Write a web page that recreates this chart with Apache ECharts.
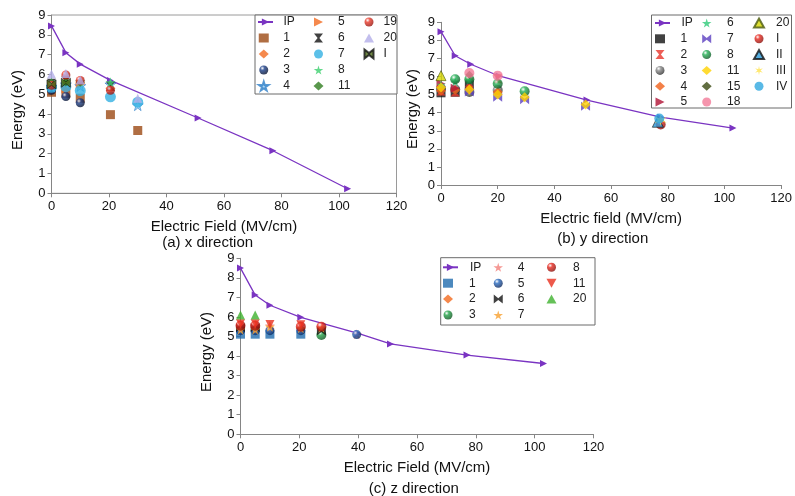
<!DOCTYPE html>
<html>
<head>
<meta charset="utf-8">
<script src="https://cdn.jsdelivr.net/npm/echarts@6/dist/echarts.min.js"></script>
<style>
  html, body { margin: 0; padding: 0; background: #fff; }
  #chart { width: 795px; height: 496px; }
</style>
</head>
<body>
<div id="chart"></div>
<script>
// ---------- data: electric field (MV/cm) vs energy (eV) ----------
// IP curves
const ipFieldX = [0, 5, 10, 20.5, 51, 77, 103];
const ipEnergyX = [8.45, 7.1, 6.52, 5.7, 3.8, 2.15, 0.23];
const ipFieldY = [0, 5, 10.5, 20.5, 51.5, 77.5, 103];
const ipEnergyY = [8.48, 7.15, 6.68, 6.03, 4.7, 3.75, 3.15];
const ipFieldZ = [0, 5, 10, 20.5, 40, 51, 77, 103];
const ipEnergyZ = [8.5, 7.12, 6.6, 5.98, 5.16, 4.62, 4.05, 3.62];

// (a) x direction
const xLabels = ['1', '2', '3', '4', '5', '6', '7', '8', '11', '19', '20', 'I'];
const xPoints = [
  [[0, 5.1], [5, 5.05], [10, 4.8], [20.5, 3.97], [30, 3.17]],
  [[0, 5.45], [5, 5.3], [10, 5.55], [20.5, 5.3]],
  [[0, 5.2], [5, 4.88], [10, 4.57]],
  [[0, 5.38], [5, 5.5], [10, 5.42], [20.5, 5.5], [30, 4.45]],
  [[0, 5.5], [5, 5.28], [10, 5.5]],
  [[0, 5.55], [5, 5.68], [20.5, 5.4]],
  [[0, 5.35], [5, 5.38], [10, 5.18], [20.5, 4.87], [30, 4.6]],
  [[0, 5.62], [5, 5.65], [10, 5.65], [20.5, 5.6]],
  [[0, 5.55], [5, 5.62], [10, 5.6]],
  [[0, 5.45], [5, 5.97], [10, 5.7], [20.5, 5.2]],
  [[0, 6.02], [5, 6.05], [10, 5.72], [30, 4.8]],
  [[0, 5.5], [5, 5.58]]
];

// (b) y direction
const yLabels = ['1', '2', '3', '4', '5', '6', '7', '8', '11', '15', '18', '20', 'I', 'II', 'III', 'IV'];
const yPoints = [
  [[0, 5.1], [5, 5.13], [10, 5.55]],
  [[0, 5.2], [5, 5.15], [10, 5.65], [20, 5.88]],
  [[0, 5.35], [5, 5.3], [10, 5.15], [20, 5.25]],
  [[0, 5.22], [5, 5.25], [10, 5.3], [20, 5.15]],
  [[0, 5.6], [5, 5.35]],
  [[0, 5.55], [5, 5.72], [10, 5.8]],
  [[10, 5.15], [20, 4.85], [29.5, 4.72], [51, 4.35]],
  [[5, 5.85], [10, 5.85], [20, 5.6], [29.5, 5.18]],
  [[0, 5.4], [10, 5.28], [20, 5.0], [29.5, 4.85], [51, 4.45]],
  [[10, 6.1]],
  [[10, 6.2], [20, 6.05]],
  [[0, 6.05]],
  [[77.5, 3.35]],
  [[76.5, 3.5]],
  [[77.5, 3.6]],
  [[77, 3.68]]
];

// (c) z direction
const zLabels = ['1', '2', '3', '4', '5', '6', '7', '8', '11', '20'];
const zPoints = [
  [[0, 5.12], [5, 5.12], [10, 5.12], [20.5, 5.12]],
  [[0, 5.45], [5, 5.45], [10, 5.4], [20.5, 5.4]],
  [[27.5, 5.08]],
  [[0, 5.6], [5, 5.6], [10, 5.55], [20.5, 5.55], [39.5, 5.12]],
  [[0, 5.3], [5, 5.3], [10, 5.3], [20.5, 5.3], [39.5, 5.1]],
  [[0, 5.45], [5, 5.45], [27.5, 5.28]],
  [[0, 5.35], [5, 5.35], [10, 5.5], [20.5, 5.42], [27.5, 5.45]],
  [[0, 5.55], [5, 5.55], [20.5, 5.5], [27.5, 5.5]],
  [[0, 5.65], [5, 5.65], [10, 5.62], [20.5, 5.6]],
  [[0, 6.1], [5, 6.1]]
];

// ---------- marker styles ----------
const STAR = 'path://M50,0L61,35L98,35L68,57L79,91L50,70L21,91L32,57L2,35L39,35Z';
const STAR6 = 'path://M50,0L58,36L93,25L67,50L93,75L58,64L50,100L42,64L7,75L33,50L7,25L42,36Z';
const HOURGLASS = 'path://M0,0L10,0L6,5L10,10L0,10L4,5Z';
const BOWTIE = 'path://M0,0L5,4L10,0L10,10L5,6L0,10Z';
const TRI_RIGHT = 'path://M0,0L10,5L0,10Z';
const TRI_DOWN = 'path://M0,0L10,0L5,9Z';

function sphere(c, d) {
  return {
    type: 'radial', x: 0.35, y: 0.3, r: 0.8,
    colorStops: [{ offset: 0, color: '#ffffff' }, { offset: 0.3, color: c }, { offset: 1, color: d }]
  };
}

const xStyles = [
  { s: 'rect', c: '#9c4a14' },
  { s: 'diamond', c: '#f36b21', size: 10 },
  { s: 'circle', c: sphere('#1b3f8a', '#020a22') },
  { s: STAR, c: '#9fd0f2', b: '#2f7fc8', size: 11 },
  { s: TRI_RIGHT, c: '#f36b21' },
  { s: HOURGLASS, c: '#111111' },
  { s: 'circle', c: '#33b0e2', size: 11 },
  { s: STAR, c: '#3ccf6e', size: 10 },
  { s: 'diamond', c: '#2f7d1f' },
  { s: 'circle', c: sphere('#ea3a2a', '#8a0e08') },
  { s: 'triangle', c: '#b3aee8' },
  { s: BOWTIE, c: '#4d6a1a', b: '#111' }
];

const yStyles = [
  { s: 'rect', c: '#111111' },
  { s: HOURGLASS, c: '#e8362c' },
  { s: 'circle', c: sphere('#8a8a8a', '#222'), size: 10 },
  { s: 'diamond', c: '#f0601a', size: 10 },
  { s: TRI_RIGHT, c: '#b01234' },
  { s: STAR, c: '#2ec978' },
  { s: BOWTIE, c: '#5b3ec0' },
  { s: 'circle', c: sphere('#23b055', '#0a4a1e'), size: 10 },
  { s: 'diamond', c: '#ffd200', size: 10 },
  { s: 'diamond', c: '#3b4a12', size: 8 },
  { s: 'circle', c: '#f27b98', size: 10 },
  { s: 'triangle', c: '#d6d600', b: '#4b5a10', size: 10 },
  { s: 'circle', c: sphere('#e8281e', '#7a0a06'), size: 10 },
  { s: 'triangle', c: '#2a9ad8', b: '#111', size: 11 },
  { s: STAR6, c: '#ffe24a', size: 12 },
  { s: 'circle', c: '#2fa8e0', size: 10 }
];

const zStyles = [
  { s: 'rect', c: '#1f6cae' },
  { s: 'diamond', c: '#f26a1e' },
  { s: 'circle', c: sphere('#22a347', '#0a4a1a'), size: 10 },
  { s: STAR, c: '#f2807a', size: 10 },
  { s: 'circle', c: sphere('#2a6bc0', '#0a2050') },
  { s: BOWTIE, c: '#111111' },
  { s: STAR, c: '#f7a030', size: 10 },
  { s: 'circle', c: sphere('#e8281e', '#7a0a06'), size: 10 },
  { s: TRI_DOWN, c: '#e8301e' },
  { s: 'triangle', c: '#3fb22e' }
];

// ---------- layout ----------
const FONT = "'Liberation Sans', Arial, sans-serif";
const IP_COLOR = '#7a34c2';

const panels = [
  {
    key: 'a', labels: xLabels, points: xPoints, styles: xStyles,
    ipF: ipFieldX, ipE: ipEnergyX,
    grid: { left: 51.5, top: 15, width: 345, height: 178.3, show: true, borderColor: '#9a9a9a', borderWidth: 1 },
    xName: 'Electric Field (MV/cm)',
    yTitle: { x: 17.5, y: 110 },
    caption: { text: '(a) x direction', x: 207.7, y: 243 },
    box: { x: 255, y: 15, w: 142, h: 79 },
    rows: { first: 22, pitch: 16 },
    columns: [
      { names: ['1', '2', '3', '4'], cx: 263, tx: 282.5, firstRow: 1 },
      { names: ['5', '6', '7', '8', '11'], cx: 318.5, tx: 338, firstRow: 0 },
      { names: ['19', '20', 'I'], cx: 368.5, tx: 383, firstRow: 0 }
    ],
    ipLegend: { left: 257, width: 15, tx: 282.5 }
  },
  {
    key: 'b', labels: yLabels, points: yPoints, styles: yStyles,
    ipF: ipFieldY, ipE: ipEnergyY,
    grid: { left: 441, top: 22.3, width: 350, height: 162.7 },
    xName: 'Electric field (MV/cm)',
    yTitle: { x: 413, y: 109 },
    caption: { text: '(b) y direction', x: 602.8, y: 239 },
    box: { x: 651.5, y: 15, w: 140, h: 93 },
    rows: { first: 23, pitch: 15.8 },
    columns: [
      { names: ['1', '2', '3', '4', '5'], cx: 660, tx: 680.5, firstRow: 1 },
      { names: ['6', '7', '8', '11', '15', '18'], cx: 706.7, tx: 727, firstRow: 0 },
      { names: ['20', 'I', 'II', 'III', 'IV'], cx: 758, tx: 775, firstRow: 0 }
    ],
    ipLegend: { left: 654, width: 15, tx: 680.5 }
  },
  {
    key: 'c', labels: zLabels, points: zPoints, styles: zStyles,
    ipF: ipFieldZ, ipE: ipEnergyZ,
    grid: { left: 240.5, top: 258.3, width: 353, height: 176 },
    xName: 'Electric Field (MV/cm)',
    yTitle: { x: 206.5, y: 352 },
    caption: { text: '(c) z direction', x: 413.8, y: 489 },
    box: { x: 440.7, y: 257.7, w: 154.3, h: 67.3 },
    rows: { first: 267.3, pitch: 15.9 },
    columns: [
      { names: ['1', '2', '3'], cx: 448, tx: 469, firstRow: 1 },
      { names: ['4', '5', '6', '7'], cx: 498.5, tx: 518, firstRow: 0 },
      { names: ['8', '11', '20'], cx: 551.5, tx: 573, firstRow: 0 }
    ],
    ipLegend: { left: 442, width: 15, tx: 469 }
  }
];

const grids = [], xAxes = [], yAxes = [], series = [], legends = [], graphics = [];

const axisLineStyle = { color: '#858585', width: 1 };

function legendFor(names, left, itemW, rowCenter, pitch, textX) {
  const pad = textX - (left + itemW + 5);
  return {
    orient: 'vertical',
    left: left,
    top: rowCenter - pitch / 2,
    padding: 0,
    itemGap: 0,
    itemWidth: itemW,
    itemHeight: 9,
    selectedMode: false,
    data: names,
    formatter: (n) => '{t|' + n.split(':')[1] + '}',
    textStyle: {
      fontFamily: FONT, fontSize: 12, color: '#222', lineHeight: pitch,
      rich: { t: { fontFamily: FONT, fontSize: 12, color: '#222', lineHeight: pitch, padding: [0, 0, 0, Math.max(0, pad)] } }
    },
    z: 6
  };
}

panels.forEach((p, i) => {
  grids.push(Object.assign({ containLabel: false }, p.grid));

  xAxes.push({
    gridIndex: i, type: 'value', min: 0, max: 120, interval: 20,
    name: p.xName, nameLocation: 'middle', nameGap: 26,
    nameTextStyle: { fontFamily: FONT, fontSize: 15, color: '#111' },
    axisLine: { show: true, lineStyle: axisLineStyle },
    axisTick: { show: true, length: 4, lineStyle: axisLineStyle },
    axisLabel: { fontFamily: FONT, fontSize: 13, color: '#111', margin: 7 },
    splitLine: { show: false }
  });

  yAxes.push({
    gridIndex: i, type: 'value', min: 0, max: 9, interval: 1,
    axisLine: { show: true, lineStyle: axisLineStyle },
    axisTick: { show: true, length: 4, lineStyle: axisLineStyle },
    axisLabel: { fontFamily: FONT, fontSize: 13, color: '#111', margin: 6 },
    splitLine: { show: false }
  });

  // IP curve
  series.push({
    name: p.key + ':IP', type: 'line',
    xAxisIndex: i, yAxisIndex: i,
    data: p.ipF.map((f, k) => [f, p.ipE[k]]),
    symbol: 'triangle', symbolRotate: -90, symbolSize: 7,
    lineStyle: { color: IP_COLOR, width: 1.3 },
    itemStyle: { color: IP_COLOR },
    z: 2, animation: false
  });

  // energy levels
  p.labels.forEach((lab, k) => {
    const st = p.styles[k];
    series.push({
      name: p.key + ':' + lab, type: 'scatter',
      xAxisIndex: i, yAxisIndex: i,
      data: p.points[k],
      symbol: st.s, symbolSize: st.size || 9,
      itemStyle: { color: st.c, borderColor: st.b || 'transparent', borderWidth: st.b ? 0.8 : 0 },
      z: 3, animation: false
    });
  });

  // legends: IP entry, then marker columns
  legends.push(legendFor([p.key + ':IP'], p.ipLegend.left, p.ipLegend.width, p.rows.first, p.rows.pitch, p.ipLegend.tx));
  p.columns.forEach((col) => {
    legends.push(legendFor(col.names.map((n) => p.key + ':' + n), col.cx - 5, 10,
      p.rows.first + col.firstRow * p.rows.pitch, p.rows.pitch, col.tx));
  });

  graphics.push({
    type: 'rect', z: 5,
    shape: { x: p.box.x, y: p.box.y, width: p.box.w, height: p.box.h },
    style: { fill: '#ffffff', stroke: '#6a6a6a', lineWidth: 1 }
  });
  // vertical energy axis title
  graphics.push({
    type: 'text', x: p.yTitle.x, y: p.yTitle.y, rotation: Math.PI / 2,
    style: { text: 'Energy (eV)', font: '15px ' + FONT, fill: '#111', textAlign: 'center', textVerticalAlign: 'middle' }
  });
  graphics.push({
    type: 'text', x: p.caption.x, y: p.caption.y,
    style: { text: p.caption.text, font: '15px ' + FONT, fill: '#111', textAlign: 'center', textVerticalAlign: 'middle' }
  });
});

const chart = echarts.init(document.getElementById('chart'), null, { renderer: 'canvas' });
chart.setOption({
  backgroundColor: '#ffffff',
  animation: false,
  grid: grids,
  xAxis: xAxes,
  yAxis: yAxes,
  legend: legends,
  graphic: graphics,
  series: series
});
</script>
</body>
</html>
